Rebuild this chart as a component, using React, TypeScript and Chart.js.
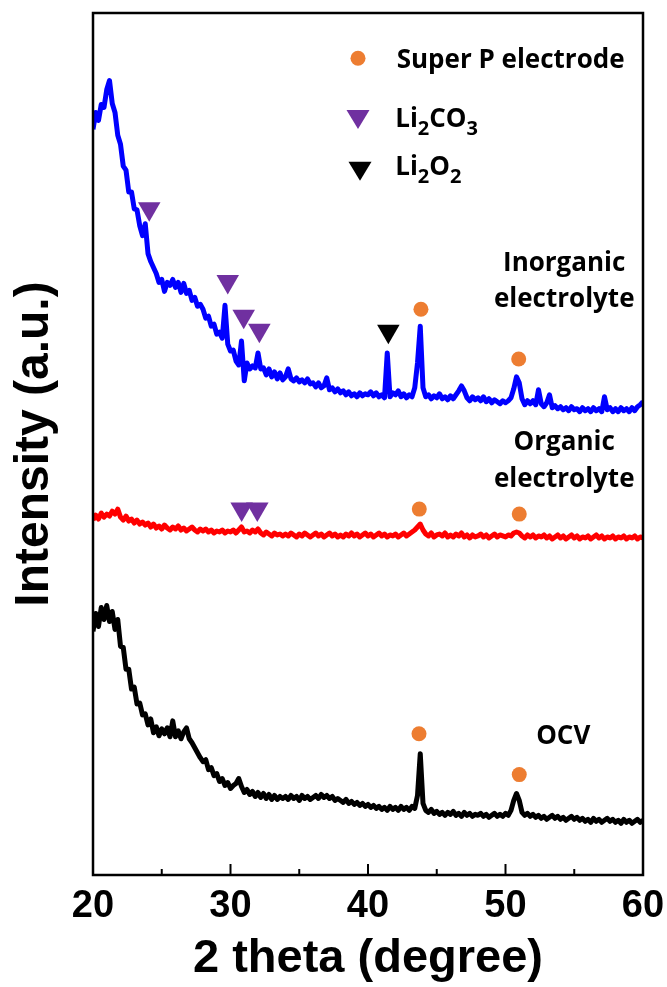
import React, { useEffect, useRef } from "react";
import { Chart, registerables } from "chart.js";
Chart.register(...registerables);

// 2θ grid of the scans (degrees)
const THETA_START = 20;
const THETA_STEP = 0.2;

// Intensity (a.u.), one value per 2θ step — Inorganic electrolyte
const inorganic = [
  750, 767, 759, 775, 772, 790, 799, 776, 767, 744,
  735, 713, 709, 687, 687, 670, 669, 653, 643, 655,
  625, 617, 611, 605, 596, 599, 587, 596, 593, 599,
  591, 596, 586, 595, 585, 588, 578, 581, 572, 574,
  569, 560, 562, 552, 554, 544, 546, 540, 573, 534,
  527, 528, 517, 513, 537, 497, 515, 509, 512, 510,
  525, 509, 510, 503, 509, 501, 506, 499, 505, 498,
  501, 509, 499, 497, 500, 496, 498, 495, 499, 494,
  495, 491, 495, 490, 492, 500, 488, 490, 486, 489,
  485, 487, 483, 486, 482, 484, 481, 485, 482, 484,
  483, 486, 482, 485, 481, 483, 480, 525, 481, 485,
  483, 487, 481, 484, 480, 483, 481, 490, 515, 552,
  490, 481, 483, 479, 482, 480, 484, 479, 481, 478,
  482, 479, 483, 487, 492, 487, 480, 477, 481, 478,
  480, 477, 481, 476, 479, 475, 478, 476, 474, 477,
  475, 477, 480, 489, 501, 495, 479, 473, 477, 474,
  477, 473, 488, 474, 471, 475, 483, 470, 472, 469,
  471, 468, 470, 467, 471, 468, 469, 466, 470, 467,
  469, 466, 470, 467, 469, 466, 481, 468, 470, 466,
  469, 466, 470, 467, 469, 466, 470, 467, 471, 473,
  476,
];

// Organic electrolyte
const organic = [
  357, 362, 358, 364, 360, 363, 361, 366, 363, 368,
  360, 357, 361, 356, 358, 354, 357, 353, 355, 352,
  354, 350, 353, 349, 351, 348, 352, 349, 347, 350,
  348, 351, 347, 349, 346, 348, 350, 347, 345, 348,
  346, 348, 345, 347, 344, 346, 345, 347, 344, 346,
  345, 347, 344, 347, 350, 345, 346, 344, 347, 345,
  348, 344, 342, 345, 343, 341, 344, 342, 343, 341,
  343, 341, 344, 342, 340, 343, 341, 344, 342, 340,
  342, 344, 341, 343, 340, 342, 344, 341, 343, 340,
  342, 340, 343, 341, 344, 341, 343, 340, 342, 344,
  341, 343, 340, 342, 344, 341, 343, 340, 342, 341,
  343, 340, 342, 344, 341, 343, 345, 347, 350, 353,
  347, 343, 341, 344, 340, 342, 343, 341, 344, 340,
  342, 340, 343, 341, 344, 340, 342, 339, 342, 340,
  341, 343, 340, 342, 339, 341, 343, 340, 342, 341,
  340, 342, 341, 344, 345, 344, 341, 339, 342, 340,
  342, 339, 341, 340, 342, 339, 341, 338, 340, 342,
  339, 341, 338, 340, 342, 339, 341, 338, 340, 339,
  341, 338, 340, 342, 339, 341, 338, 340, 339, 341,
  338, 340, 339, 341, 338, 340, 339, 341, 338, 340,
  339,
];

// OCV
const ocv = [
  245, 263, 250, 269, 257, 271, 255, 265, 247, 257,
  230, 229, 207, 207, 187, 189, 172, 173, 161, 162,
  151, 157, 143, 149, 140, 147, 142, 148, 139, 155,
  139, 145, 137, 144, 148, 137, 133, 128, 123, 118,
  114, 116, 106, 108, 100, 102, 94, 97, 90, 93,
  87, 90, 92, 97, 89, 83, 86, 81, 84, 79,
  83, 78, 82, 77, 81, 76, 80, 76, 79, 77,
  79, 76, 80, 77, 79, 75, 80, 77, 79, 76,
  78, 80, 77, 81, 78, 80, 77, 79, 75, 77,
  75, 73, 76, 72, 74, 71, 73, 70, 72, 69,
  71, 68, 70, 67, 69, 66, 68, 65, 69, 66,
  68, 65, 69, 66, 68, 65, 69, 67, 80, 122,
  72, 65, 63, 66, 62, 64, 61, 63, 60, 63,
  61, 64, 60, 62, 59, 63, 60, 62, 59, 61,
  60, 62, 59, 61, 58, 60, 62, 59, 61, 59,
  62, 60, 65, 75, 82, 75, 63, 60, 62, 59,
  61, 58, 60, 57, 59, 56, 58, 60, 57, 59,
  56, 58, 55, 57, 59, 56, 58, 55, 57, 54,
  56, 53, 57, 54, 56, 53, 55, 57, 54, 56,
  53, 55, 52, 56, 53, 55, 52, 54, 56, 53,
  55,
];

// Phase markers: 2θ positions and marker heights
const superPX = [43.85, 50.96, 43.73, 51.0, 43.71, 51.0];
const superPY = [569, 519, 368, 363, 142, 101];
const li2co3X = [24.09, 29.8, 30.96, 32.1, 30.81, 31.95];
const li2co3Y = [670, 597, 562, 548, 368, 368];
const li2o2X = [41.48];
const li2o2Y = [547];

const xTicks = [20, 30, 40, 50, 60];
const xMinorTicks = [25, 35, 45, 55];

const ORANGE = "#ED7D31";
const PURPLE = "#7030A0";
const TEXT_FAMILY = "'Open Sans', 'Noto Sans', sans-serif";
const TEXT_SIZE = 26;

const theta = (i: number) => +(THETA_START + i * THETA_STEP).toFixed(1);
const toPoints = (arr: number[]) => arr.map((y, i) => ({ x: theta(i), y }));
const zipPts = (xs: number[], ys: number[]) => xs.map((x, i) => ({ x, y: ys[i] }));

type Seg = { t: string; sub?: boolean };

function drawRich(ctx: CanvasRenderingContext2D, segs: Seg[], x: number, y: number, size: number) {
  let cx = x;
  for (const s of segs) {
    const fs = s.sub ? Math.round(size * 0.78) : size;
    ctx.font = `bold ${fs}px ${TEXT_FAMILY}`;
    ctx.fillText(s.t, cx, s.sub ? y + 8 : y);
    cx += ctx.measureText(s.t).width;
  }
}

const framePlugin = {
  id: "frameAndTicks",
  afterDatasetsDraw(chart: any) {
    const { ctx, chartArea: a, scales } = chart;
    const x = scales.x;
    ctx.save();
    ctx.strokeStyle = "#000";
    ctx.lineWidth = 2;
    for (const v of xTicks.slice(1, -1)) {
      const px = x.getPixelForValue(v);
      ctx.beginPath();
      ctx.moveTo(px, a.bottom);
      ctx.lineTo(px, a.bottom - 11);
      ctx.stroke();
    }
    for (const v of xMinorTicks) {
      const px = x.getPixelForValue(v);
      ctx.beginPath();
      ctx.moveTo(px, a.bottom);
      ctx.lineTo(px, a.bottom - 6);
      ctx.stroke();
    }
    ctx.lineWidth = 2.5;
    ctx.strokeRect(a.left, a.top, a.right - a.left, a.bottom - a.top);
    ctx.restore();
  },
};

const annotationPlugin = {
  id: "annotations",
  afterDraw(chart: any) {
    const { ctx, chartArea: a, scales } = chart;
    const x = scales.x;
    const y = scales.y;
    ctx.save();
    ctx.fillStyle = "#000";
    ctx.textBaseline = "alphabetic";
    // sample labels
    ctx.font = `bold ${TEXT_SIZE}px ${TEXT_FAMILY}`;
    ctx.textAlign = "center";
    const labels = [
      { lines: ["Inorganic", "electrolyte"], x: 54.27, y: 608 },
      { lines: ["Organic", "electrolyte"], x: 54.27, y: 427 },
      { lines: ["OCV"], x: 54.2, y: 132 },
    ];
    for (const l of labels) {
      const px = x.getPixelForValue(l.x);
      const py = y.getPixelForValue(l.y);
      l.lines.forEach((t, k) => ctx.fillText(t, px, py + k * 36.6));
    }
    // legend
    const lx = a.left + 265;
    const tx = a.left + 303.7;
    ctx.fillStyle = ORANGE;
    ctx.beginPath();
    ctx.arc(lx, a.top + 45.3, 7.5, 0, Math.PI * 2);
    ctx.fill();
    const tri = (cx: number, top: number, color: string) => {
      ctx.fillStyle = color;
      ctx.beginPath();
      ctx.moveTo(cx - 11.5, top);
      ctx.lineTo(cx + 11.5, top);
      ctx.lineTo(cx, top + 19);
      ctx.closePath();
      ctx.fill();
    };
    tri(lx, a.top + 97, PURPLE);
    tri(lx + 2, a.top + 148.7, "#000");
    ctx.fillStyle = "#000";
    ctx.textAlign = "left";
    drawRich(ctx, [{ t: "Super P electrode" }], tx, a.top + 55.3, TEXT_SIZE);
    drawRich(ctx, [{ t: "Li" }, { t: "2", sub: true }, { t: "CO" }, { t: "3", sub: true }], tx - 1.5, a.top + 113.7, TEXT_SIZE);
    drawRich(ctx, [{ t: "Li" }, { t: "2", sub: true }, { t: "O" }, { t: "2", sub: true }], tx - 1.5, a.top + 162, TEXT_SIZE);
    ctx.restore();
  },
};

export default function App() {
  const ref = useRef<HTMLCanvasElement | null>(null);
  useEffect(() => {
    if (!ref.current) return;
    const lineDs = (label: string, data: number[], color: string) => ({
      type: "line" as const,
      label,
      data: toPoints(data),
      borderColor: color,
      backgroundColor: color,
      borderWidth: 5,
      pointRadius: 0,
      tension: 0,
      borderJoinStyle: "round" as const,
      order: 2,
    });
    const chart = new Chart(ref.current, {
      type: "line",
      data: {
        datasets: [
          {
            type: "scatter",
            label: "Super P electrode",
            data: zipPts(superPX, superPY),
            pointStyle: "circle",
            pointRadius: 7.5,
            backgroundColor: ORANGE,
            borderWidth: 0,
            order: 1,
          } as any,
          {
            type: "scatter",
            label: "Li2CO3",
            data: zipPts(li2co3X, li2co3Y),
            pointStyle: "triangle",
            rotation: 180,
            pointRadius: 13,
            backgroundColor: PURPLE,
            borderWidth: 0,
            order: 1,
          } as any,
          {
            type: "scatter",
            label: "Li2O2",
            data: zipPts(li2o2X, li2o2Y),
            pointStyle: "triangle",
            rotation: 180,
            pointRadius: 13,
            backgroundColor: "#000",
            borderWidth: 0,
            order: 1,
          } as any,
          lineDs("Inorganic electrolyte", inorganic, "#0000FF"),
          lineDs("Organic electrolyte", organic, "#FF0000"),
          lineDs("OCV", ocv, "#000000"),
        ],
      },
      options: {
        responsive: false,
        animation: false,
        devicePixelRatio: 1,
        layout: { padding: { left: 0, top: 8, right: 24, bottom: 0 } },
        plugins: { legend: { display: false }, tooltip: { enabled: false } },
        scales: {
          x: {
            type: "linear",
            min: 20,
            max: 60,
            afterBuildTicks: (s: any) => {
              s.ticks = xTicks.map((v) => ({ value: v }));
            },
            afterFit: (s: any) => {
              s.height = 112;
              s.paddingLeft = 0;
              s.paddingRight = 0;
            },
            grid: { display: false, drawTicks: false },
            border: { display: false },
            ticks: {
              color: "#000",
              padding: 9,
              maxRotation: 0,
              font: { family: "Arial, 'Liberation Sans', sans-serif", size: 38, weight: "bold" },
            },
            title: {
              display: true,
              text: "2 theta (degree)",
              color: "#000",
              padding: { top: 0, bottom: 0 },
              font: { family: "Arial, 'Liberation Sans', sans-serif", size: 47, weight: "bold" },
            },
          },
          y: {
            type: "linear",
            min: 0,
            max: 867,
            afterFit: (s: any) => {
              s.width = 93;
            },
            grid: { display: false, drawTicks: false },
            border: { display: false },
            ticks: { display: false },
            title: {
              display: true,
              text: "Intensity (a.u.)",
              color: "#000",
              padding: { top: 6, bottom: 0 },
              font: { family: "Arial, 'Liberation Sans', sans-serif", size: 48, weight: "bold" },
            },
          },
        },
      },
      plugins: [framePlugin, annotationPlugin],
    } as any);
    return () => chart.destroy();
  }, []);
  return (
    <div style={{ position: "absolute", left: 0, top: 0, width: 667, height: 987, background: "#fff" }}>
      <canvas ref={ref} width={667} height={987} style={{ width: 667, height: 987, display: "block" }} />
    </div>
  );
}
